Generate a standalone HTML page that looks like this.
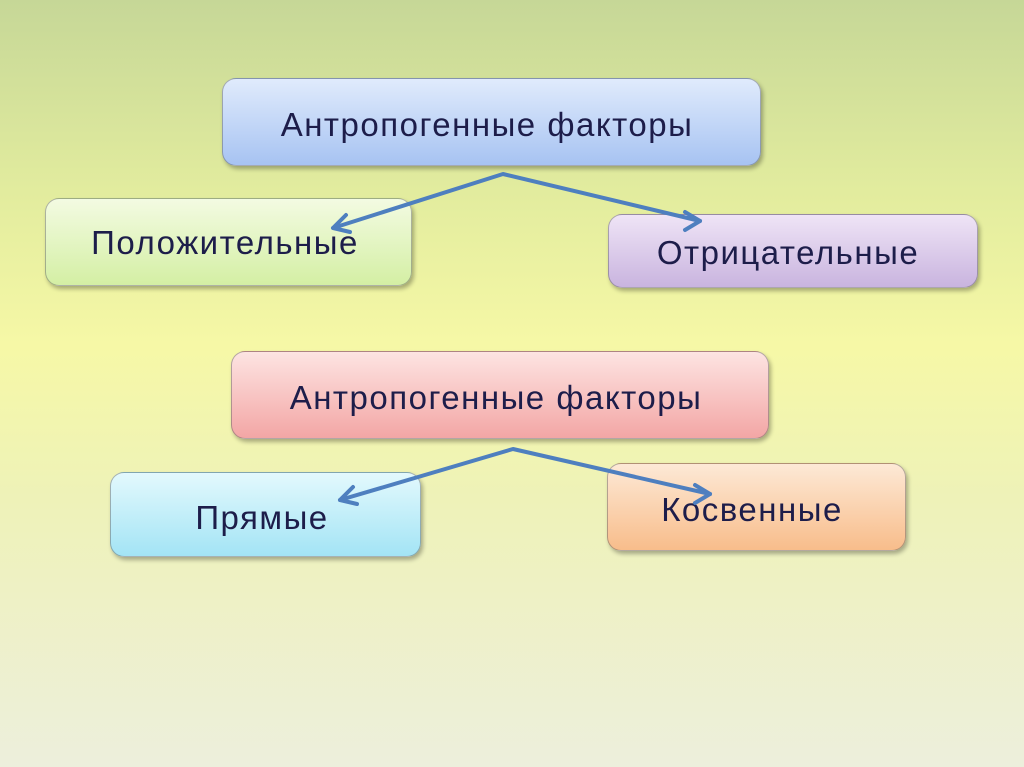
<!DOCTYPE html>
<html><head><meta charset="utf-8"><style>
html,body{margin:0;padding:0}
body{width:1024px;height:767px;position:relative;overflow:hidden;
background:linear-gradient(to bottom,#c6d797 0%,#e2ec9e 25%,#f6f8a6 45%,#eef2b8 65%,#edefdc 100%);
font-family:"Liberation Sans","DejaVu Sans",sans-serif;}
.b{position:absolute;box-sizing:border-box;border-radius:14px;border:1.5px solid rgba(90,90,90,0.45);
box-shadow:2px 3px 4px rgba(0,0,0,0.3);}
.t{position:absolute;color:#1d1d4a;font-size:33px;letter-spacing:1.5px;white-space:nowrap;transform:translate(-50%,-50%)}
svg{position:absolute;left:0;top:0}
</style></head><body>
<div class="b" style="left:222px;top:78px;width:539px;height:88px;background:linear-gradient(#e0ebfc,#a7c3f2)"></div>
<div class="b" style="left:45px;top:198px;width:367px;height:88px;background:linear-gradient(#f3fbe2,#d4efa4)"></div>
<div class="b" style="left:608px;top:214px;width:370px;height:74px;background:linear-gradient(#efe4f6,#c9b4df)"></div>
<div class="b" style="left:231px;top:351px;width:538px;height:88px;background:linear-gradient(#fde4e2,#f3a6a5)"></div>
<div class="b" style="left:110px;top:472px;width:311px;height:85px;background:linear-gradient(#e3f9fd,#a3e4f5)"></div>
<div class="b" style="left:607px;top:463px;width:299px;height:88px;background:linear-gradient(#fde9d6,#f8bd8b)"></div>
<div class="t" style="left:487px;top:125px">Антропогенные факторы</div>
<div class="t" style="left:225px;top:243px">Положительные</div>
<div class="t" style="left:788px;top:253px">Отрицательные</div>
<div class="t" style="left:496px;top:398px">Антропогенные факторы</div>
<div class="t" style="left:262px;top:518px">Прямые</div>
<div class="t" style="left:752px;top:510px">Косвенные</div>
<svg width="1024" height="767">
<g stroke="#4e7fbf" stroke-width="4" fill="none" stroke-linecap="round" stroke-linejoin="round">
<polyline points="333,228 503,174 700,221"/>
<polyline points="346,215 333,228 350,232"/>
<polyline points="685,212 700,221 685,230"/>
<polyline points="340,500 513,449 710,494"/>
<polyline points="353,487 340,500 357,504"/>
<polyline points="695,485 710,494 695,503"/>
</g></svg>
</body></html>
